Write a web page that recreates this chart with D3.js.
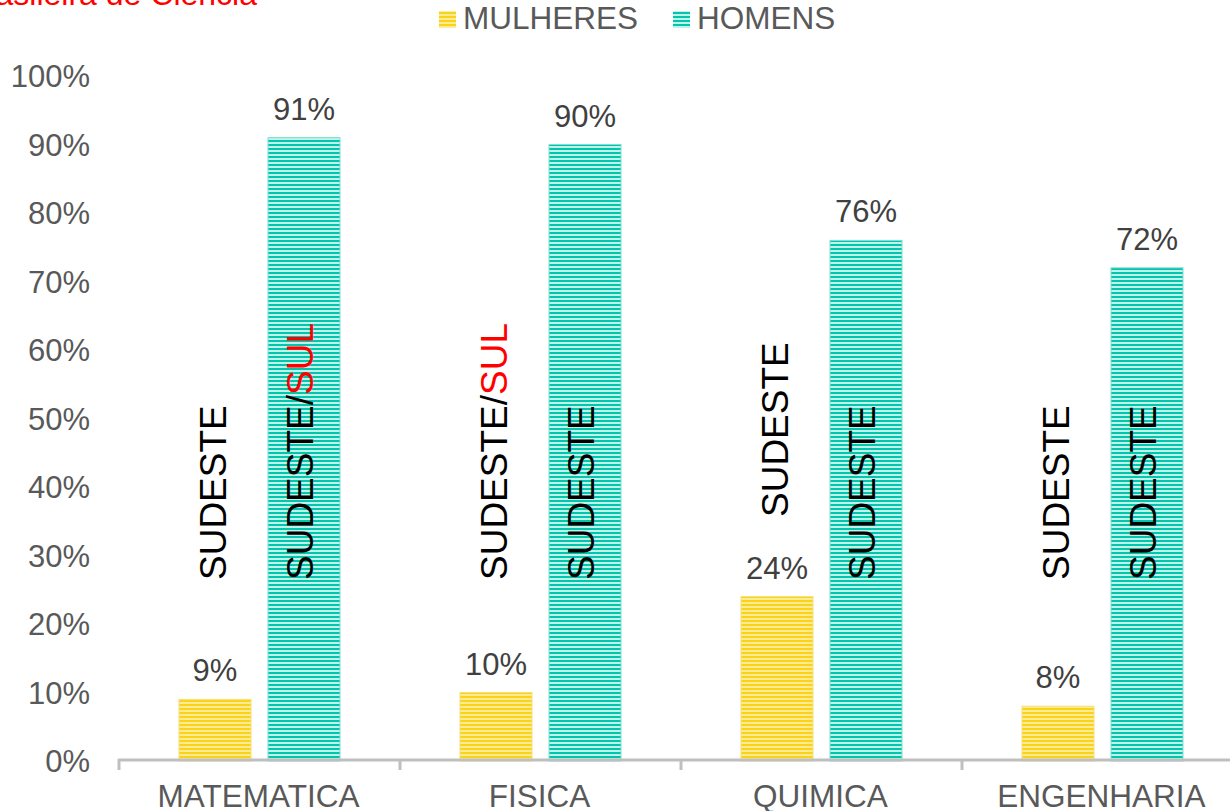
<!DOCTYPE html>
<html><head><meta charset="utf-8">
<script src="https://cdn.jsdelivr.net/npm/d3@7"></script>
<style>body{margin:0;background:#fff}svg{display:block;font-family:Arial,"Liberation Sans",sans-serif}</style>
</head><body>
<svg id="c" width="1230" height="811"></svg>
<script>
const categories = ["MATEMATICA","FISICA","QUIMICA","ENGENHARIA"];
const series = ["MULHERES","HOMENS"];
const mulheres = [9,10,24,8];
const homens = [91,90,76,72];
const yTicks = [0,10,20,30,40,50,60,70,80,90,100];
// region annotations: [text before red part, red part]
const regionMulheres = [["SUDESTE",""],["SUDESTE/","SUL"],["SUDESTE",""],["SUDESTE",""]];
const regionHomens = [["SUDESTE/","SUL"],["SUDESTE",""],["SUDESTE",""],["SUDESTE",""]];
const regionOffset = [0,0,63,0]; // mulheres label lifted in QUIMICA (px)

const svg = d3.select("#c");
const x0 = d3.scaleBand().domain(categories).range([119,1243]).paddingInner(0).paddingOuter(0);
const y = d3.scaleLinear().domain([0,100]).range([761,76]);

const defs = svg.append("defs");
function stripes(id, c1, c2){
  const p = defs.append("pattern").attr("id",id).attr("patternUnits","userSpaceOnUse")
    .attr("width",8).attr("height",4);
  p.append("rect").attr("width",8).attr("height",4).attr("fill",c2);
  p.append("rect").attr("width",8).attr("height",2).attr("fill",c1);
}
stripes("pY","#F8D31A","#FCEB92");
stripes("pT","#00C6AE","#C2F1EA");
const fills = {MULHERES:"url(#pY)", HOMENS:"url(#pT)"};
const edge = {MULHERES:"#F6E07A", HOMENS:"#7EDFD2"};

// title fragment (cut off at top)
svg.append("text").attr("x",257).attr("y",5).attr("text-anchor","end")
  .attr("font-size",32).attr("fill","#FF0000").text("Brasileira de Ciência");

// y tick labels
svg.append("g").selectAll("text").data(yTicks).join("text")
  .attr("x",90).attr("y",d=>y(d)+11).attr("text-anchor","end")
  .attr("font-size",31).attr("fill","#595959").text(d=>d+"%");

const bw = 72;
const xm = c => x0(c)+60;
const xh = c => x0(c)+149;

const data = categories.map((c,i)=>({c,i,m:mulheres[i],h:homens[i]}));
const g = svg.append("g");
// bars
g.selectAll(".bm").data(data).join("rect")
  .attr("x",d=>xm(d.c)).attr("width",bw).attr("y",d=>y(d.m)).attr("height",d=>y(0)-y(d.m))
  .attr("fill",fills.MULHERES).attr("stroke",edge.MULHERES).attr("stroke-width",1);
g.selectAll(".bh").data(data).join("rect")
  .attr("x",d=>xh(d.c)).attr("width",bw).attr("y",d=>y(d.h)).attr("height",d=>y(0)-y(d.h))
  .attr("fill",fills.HOMENS).attr("stroke",edge.HOMENS).attr("stroke-width",1);

// value labels
g.selectAll(".lm").data(data).join("text")
  .attr("x",d=>xm(d.c)+bw/2).attr("y",d=>y(d.m)-18).attr("text-anchor","middle")
  .attr("font-size",31).attr("fill","#404040").text(d=>d.m+"%");
g.selectAll(".lh").data(data).join("text")
  .attr("x",d=>xh(d.c)+bw/2).attr("y",d=>y(d.h)-18).attr("text-anchor","middle")
  .attr("font-size",31).attr("fill","#404040").text(d=>d.h+"%");

// vertical region labels
function vlabel(cx, bottom, parts){
  const t = g.append("text").attr("transform",`translate(${cx+13},${bottom}) rotate(-90)`)
    .attr("font-size",37).attr("fill","#000");
  t.append("tspan").text(parts[0]);
  if(parts[1]) t.append("tspan").attr("fill","#FF0000").text(parts[1]);
}
data.forEach(d=>{
  vlabel(xm(d.c)+bw/2-2, 580-regionOffset[d.i], regionMulheres[d.i]);
  vlabel(xh(d.c)+bw/2-4, 580, regionHomens[d.i]);
});

// x axis
const ax = svg.append("g");
ax.append("line").attr("x1",118).attr("x2",1230).attr("y1",760).attr("y2",760)
  .attr("stroke","#BFBFBF").attr("stroke-width",3);
const tickX = categories.map(c=>x0(c));
ax.selectAll(".tk").data(tickX).join("line")
  .attr("x1",d=>d).attr("x2",d=>d).attr("y1",759).attr("y2",770)
  .attr("stroke","#BFBFBF").attr("stroke-width",3);
ax.selectAll(".cl").data(categories).join("text")
  .attr("x",c=>x0(c)+x0.bandwidth()/2-1).attr("y",807).attr("text-anchor","middle")
  .attr("font-size",31.5).attr("fill","#595959").text(c=>c);

// legend
const leg = svg.append("g");
const legX = [439, 673];
series.forEach((s,i)=>{
  leg.append("rect").attr("x",legX[i]).attr("y",11).attr("width",17).attr("height",17)
    .attr("fill",fills[s]);
  leg.append("text").attr("x",legX[i]+24).attr("y",29).attr("font-size",31.5)
    .attr("fill","#595959").text(s);
});
</script>
</body></html>
